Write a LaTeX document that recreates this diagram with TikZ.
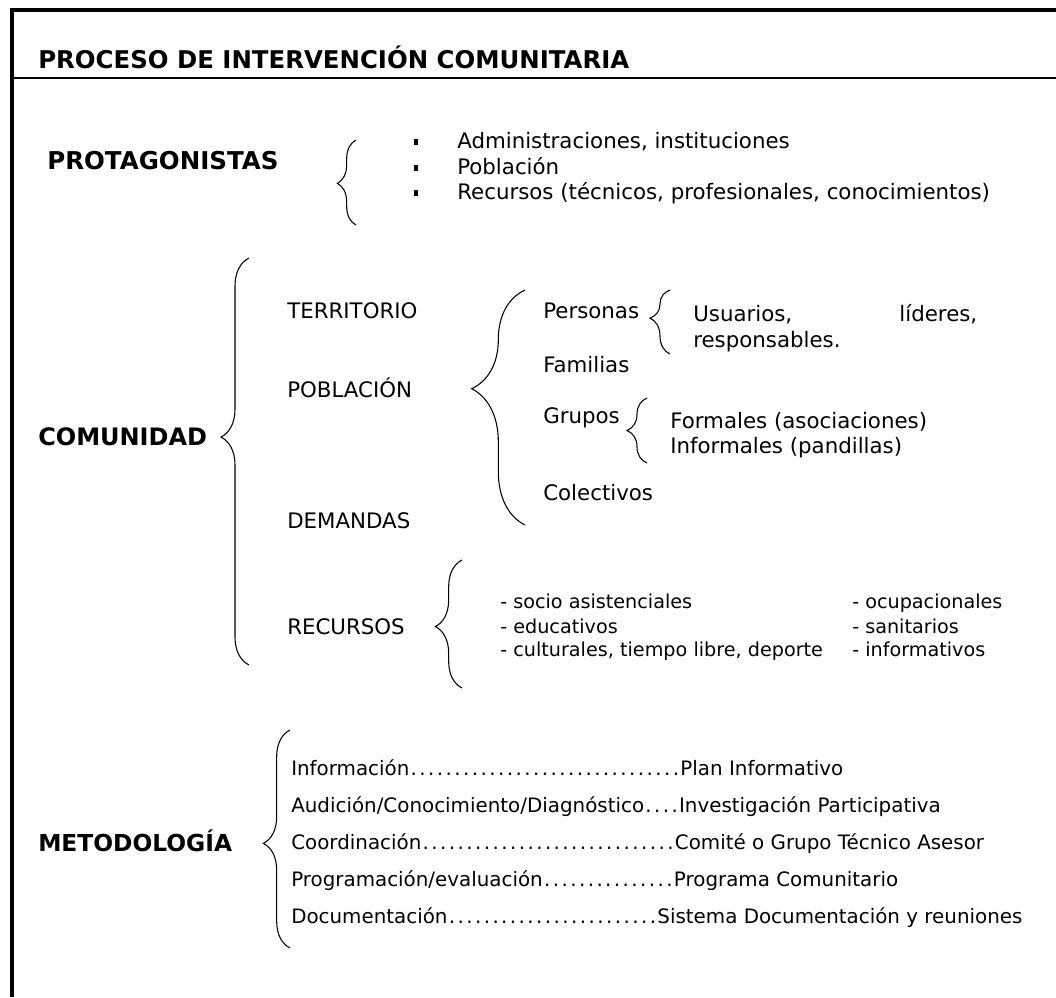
\documentclass[tikz,border=0pt]{standalone}
\usepackage{fontspec}
\setmainfont{DejaVu Sans}
\usetikzlibrary{decorations.pathreplacing}
\newcommand{\puntos}[1]{\foreach \k in {1,...,#1}{\makebox[.44em]{.}}}
\begin{document}
\begin{tikzpicture}[x=0.75pt,y=-0.75pt,
txt/.style={anchor=base west, inner sep=0, font=\fontsize{16}{19}\selectfont},
head/.style={anchor=base west, inner sep=0, font=\fontsize{18}{21}\selectfont\bfseries},
lst/.style={anchor=base west, inner sep=0, font=\fontsize{14.4}{17}\selectfont},
met/.style={anchor=base west, inner sep=0, font=\fontsize{14.9}{17}\selectfont},
llave/.style={decorate, decoration={brace, amplitude=#1}, line width=0.8pt},
bala/.style={fill, inner sep=0, minimum width=3.4pt, minimum height=4pt}]
\useasboundingbox (0,0) rectangle (1056,997);
\draw[line width=2.4pt] (12,997) -- (12,10) -- (1056,10);
\draw[line width=1.4pt] (12,78) -- (1056,78);
\node[head, font=\fontsize{18.3}{21}\selectfont\bfseries] (titulo) at (38,68){PROCESO DE INTERVENCIÓN COMUNITARIA};
\node[head, font=\fontsize{18.4}{21}\selectfont\bfseries] (prot) at (47,169){PROTAGONISTAS};
\draw[llave=14, decoration={aspect=.49}] (356,225) -- (356,140);
\node[bala] (b1) at (416,142){};
\node[bala] (b2) at (416,168){};
\node[bala] (b3) at (416,193){};
\node[txt] (adm) at (457,148){Administraciones, instituciones};
\node[txt] (pob) at (457,174){Población};
\node[txt] (rec) at (457,199){Recursos (técnicos, profesionales, conocimientos)};
\node[head] (com) at (38,445){COMUNIDAD};
\draw[llave=21, decoration={aspect=.56}] (249,665) -- (249,258);
\node[txt] (terr) at (287,318){TERRITORIO};
\node[txt] (pobl) at (287,397){POBLACIÓN};
\node[txt] (dem) at (287,528){DEMANDAS};
\node[txt] (recu) at (287,634){RECURSOS};
\draw[llave=40, decoration={aspect=.58}] (525,525) -- (525,290);
\node[txt] (pers) at (543,318){Personas};
\draw[llave=15, decoration={aspect=.56}] (670,354) -- (670,290);
\node[txt] (usu) at (693,321){\makebox[213pt][s]{Usuarios, líderes,}};
\node[txt] (resp) at (693,347){responsables.};
\node[txt] (fam) at (543,372){Familias};
\node[txt] (grup) at (543,423){Grupos};
\draw[llave=15, decoration={aspect=.5}] (647,463) -- (647,398);
\node[txt] (form) at (670,428){Formales (asociaciones)};
\node[txt] (inf) at (670,453){Informales (pandillas)};
\node[txt] (col) at (543,500){Colectivos};
\draw[llave=20, decoration={aspect=.48}] (462,688) -- (462,560);
\node[lst] (r1) at (500,608){- socio asistenciales};
\node[lst] (r2) at (500,633){- educativos};
\node[lst] (r3) at (500,656){- culturales, tiempo libre, deporte};
\node[lst] (r4) at (852,608){- ocupacionales};
\node[lst] (r5) at (852,633){- sanitarios};
\node[lst] (r6) at (852,656){- informativos};
\node[head, font=\fontsize{17.5}{21}\selectfont\bfseries] (met) at (38,851){METODOLOGÍA};
\draw[llave=20, decoration={aspect=.48}] (290,948) -- (290,730);
\node[met] (m1) at (291,775){Información\puntos{31}Plan Informativo};
\node[met] (m2) at (291,812){Audición/Conocimiento/Diagnóstico\puntos{4}Investigación Participativa};
\node[met] (m3) at (291,849){Coordinación\puntos{29}Comité o Grupo Técnico Asesor};
\node[met] (m4) at (291,886){Programación/evaluación\puntos{15}Programa Comunitario};
\node[met] (m5) at (291,923){Documentación\puntos{24}Sistema Documentación y reuniones};
\end{tikzpicture}
\end{document}
